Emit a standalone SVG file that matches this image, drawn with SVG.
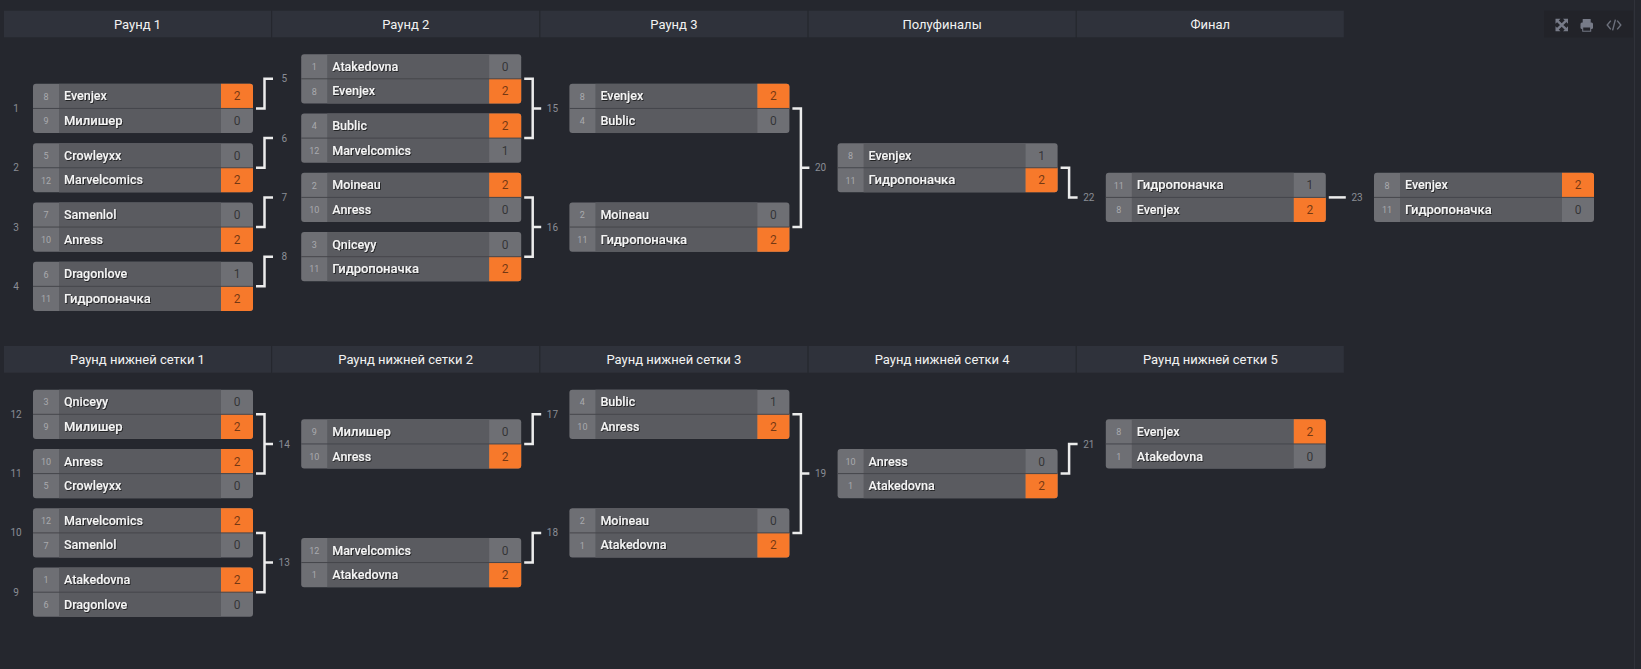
<svg xmlns="http://www.w3.org/2000/svg" xmlns:xlink="http://www.w3.org/1999/xlink" width="1641" height="669" viewBox="0 0 1641 669">
<style>
.bg{fill:#25272e}
.hd{fill:#2f323b}
.ht{font-family:Roboto,"Liberation Sans",sans-serif;font-size:13px;fill:#f2f2f2;text-anchor:middle}
.b{fill:#6e6f74}
.n{fill:#5a5b60}
.w{fill:#f7792b}
.d{stroke:#45464b;stroke-width:1}
.sd{font-family:Roboto,"Liberation Sans",sans-serif;font-size:9px;fill:#a9aaae;text-anchor:middle}
.nm{font-family:Roboto,"Liberation Sans",sans-serif;font-size:12.5px;font-weight:500;fill:#f4f4f4;filter:url(#sh)}
.cy{font-size:13px}
.sc{font-family:Roboto,"Liberation Sans",sans-serif;font-size:12px;fill:#000;fill-opacity:.55;text-anchor:middle}
.ml{font-family:Roboto,"Liberation Sans",sans-serif;font-size:10px;fill:#8a8d95;text-anchor:middle}
.cn{fill:none;stroke:#ececec;stroke-width:2.5}
.ic{fill:#777b88}
.ics{fill:none;stroke:#6d717d;stroke-width:1.4}
</style>
<defs>
<filter id="sh" x="-10%" y="-30%" width="130%" height="170%"><feDropShadow dx="0.8" dy="0.9" stdDeviation="0.4" flood-color="#000" flood-opacity="0.7"/></filter>
<g id="box"><rect class="b" width="220" height="49.2" rx="3"/><rect class="n" x="26" width="162" height="49.2"/></g>
<path id="wt" class="w" d="M188 0H217A3 3 0 0 1 220 3V24.6H188Z"/>
<path id="wb" class="w" d="M188 24.6H220V46.2A3 3 0 0 1 217 49.2H188Z"/>
</defs>
<rect class="bg" width="1641" height="669"/>
<line x1="1634.5" y1="0" x2="1634.5" y2="669" stroke="#30323a" stroke-width="1"/>

<g id="headers">
<rect class="hd" x="4" y="10.7" width="267" height="26.6"/><text class="ht" x="137.5" y="28.5">Раунд 1</text>
<rect class="hd" x="272.2" y="10.7" width="267" height="26.6"/><text class="ht" x="405.7" y="28.5">Раунд 2</text>
<rect class="hd" x="540.4" y="10.7" width="267" height="26.6"/><text class="ht" x="673.9" y="28.5">Раунд 3</text>
<rect class="hd" x="808.6" y="10.7" width="267" height="26.6"/><text class="ht" x="942.1" y="28.5">Полуфиналы</text>
<rect class="hd" x="1076.8" y="10.7" width="267" height="26.6"/><text class="ht" x="1210.3" y="28.5">Финал</text>
<rect class="hd" x="4" y="346" width="267" height="26.7"/><text class="ht" x="137.5" y="363.8">Раунд нижней сетки 1</text>
<rect class="hd" x="272.2" y="346" width="267" height="26.7"/><text class="ht" x="405.7" y="363.8">Раунд нижней сетки 2</text>
<rect class="hd" x="540.4" y="346" width="267" height="26.7"/><text class="ht" x="673.9" y="363.8">Раунд нижней сетки 3</text>
<rect class="hd" x="808.6" y="346" width="267" height="26.7"/><text class="ht" x="942.1" y="363.8">Раунд нижней сетки 4</text>
<rect class="hd" x="1076.8" y="346" width="267" height="26.7"/><text class="ht" x="1210.3" y="363.8">Раунд нижней сетки 5</text>
</g>

<g id="toolbar">
<rect x="1544" y="10.7" width="89" height="26.7" fill="#222329"/>
<g class="ic">
<path d="M1555.5 18.8h5l-5 5z M1568 18.8h-5l5 5z M1555.5 31.2h5l-5-5z M1568 31.2h-5l5-5z"/>
<path d="M1557 20.3L1566.4 29.7 M1566.4 20.3L1557 29.7" stroke="#777b88" stroke-width="2.4"/>
<rect x="1582.7" y="19" width="8" height="4" rx="0.5"/>
<rect x="1580.5" y="22.5" width="12.5" height="6.5" rx="1.5"/>
<rect x="1582.7" y="27" width="8" height="4.2" fill="#222329" stroke="#777b88" stroke-width="1"/>
</g>
<path class="ics" d="M1610.8 20.6L1607.2 25L1610.8 29.4 M1617.2 20.6L1620.8 25L1617.2 29.4 M1615.4 19.6L1612.6 30.4"/>
</g>

<g id="connectors">
<path class="cn" d="M256 108.45H264.5V78.8H273"/>
<path class="cn" d="M256 167.75H264.5V138.1H273"/>
<path class="cn" d="M256 227.05H264.5V197.4H273"/>
<path class="cn" d="M256 286.35H264.5V256.7H273"/>
<path class="cn" d="M524.2 78.8H532.7V138.1H524.2M532.7 108.45H541.2"/>
<path class="cn" d="M524.2 197.4H532.7V256.7H524.2M532.7 227.05H541.2"/>
<path class="cn" d="M792.4 108.45H800.9V227.05H792.4M800.9 167.75H809.4"/>
<path class="cn" d="M1060.6 167.75H1069.1V197.4H1077.6"/>
<path class="cn" d="M1328.8 197.4H1345.8"/>
<path class="cn" d="M256 414.3H264.5V473.6H256M264.5 443.95H273"/>
<path class="cn" d="M256 532.9H264.5V592.2H256M264.5 562.55H273"/>
<path class="cn" d="M524.2 443.95H532.7V414.3H541.2"/>
<path class="cn" d="M524.2 562.55H532.7V532.9H541.2"/>
<path class="cn" d="M792.4 414.3H800.9V532.9H792.4M800.9 473.6H809.4"/>
<path class="cn" d="M1060.6 473.6H1069.1V443.95H1077.6"/>
</g>

<g id="match-labels">
<text class="ml" x="16" y="112">1</text>
<text class="ml" x="16" y="171.3">2</text>
<text class="ml" x="16" y="230.6">3</text>
<text class="ml" x="16" y="289.9">4</text>
<text class="ml" x="284.2" y="82.3">5</text>
<text class="ml" x="284.2" y="141.6">6</text>
<text class="ml" x="284.2" y="200.9">7</text>
<text class="ml" x="284.2" y="260.2">8</text>
<text class="ml" x="552.4" y="112">15</text>
<text class="ml" x="552.4" y="230.6">16</text>
<text class="ml" x="820.6" y="171.3">20</text>
<text class="ml" x="1088.8" y="200.9">22</text>
<text class="ml" x="1357" y="200.9">23</text>
<text class="ml" x="16" y="417.8">12</text>
<text class="ml" x="16" y="477.1">11</text>
<text class="ml" x="16" y="536.4">10</text>
<text class="ml" x="16" y="595.7">9</text>
<text class="ml" x="284.2" y="447.5">14</text>
<text class="ml" x="284.2" y="566">13</text>
<text class="ml" x="552.4" y="417.8">17</text>
<text class="ml" x="552.4" y="536.4">18</text>
<text class="ml" x="820.6" y="477.1">19</text>
<text class="ml" x="1088.8" y="447.5">21</text>
</g>

<g id="m1" transform="translate(33,83.85)"><use href="#box"/><use href="#wt"/><line class="d" x2="220" y1="24.6" y2="24.6"/>
<text class="sd" x="13" y="15.8">8</text><text class="nm" x="31" y="16.6">Evenjex</text><text class="sc" x="204" y="16.6">2</text>
<text class="sd" x="13" y="40.4">9</text><text class="nm cy" x="31" y="41.3">Милишер</text><text class="sc" x="204" y="41.2">0</text></g>

<g id="m2" transform="translate(33,143.15)"><use href="#box"/><use href="#wb"/><line class="d" x2="220" y1="24.6" y2="24.6"/>
<text class="sd" x="13" y="15.8">5</text><text class="nm" x="31" y="16.6">Crowleyxx</text><text class="sc" x="204" y="16.6">0</text>
<text class="sd" x="13" y="40.4">12</text><text class="nm" x="31" y="41.2">Marvelcomics</text><text class="sc" x="204" y="41.2">2</text></g>

<g id="m3" transform="translate(33,202.45)"><use href="#box"/><use href="#wb"/><line class="d" x2="220" y1="24.6" y2="24.6"/>
<text class="sd" x="13" y="15.8">7</text><text class="nm" x="31" y="16.6">Samenlol</text><text class="sc" x="204" y="16.6">0</text>
<text class="sd" x="13" y="40.4">10</text><text class="nm" x="31" y="41.2">Anress</text><text class="sc" x="204" y="41.2">2</text></g>

<g id="m4" transform="translate(33,261.75)"><use href="#box"/><use href="#wb"/><line class="d" x2="220" y1="24.6" y2="24.6"/>
<text class="sd" x="13" y="15.8">6</text><text class="nm" x="31" y="16.6">Dragonlove</text><text class="sc" x="204" y="16.6">1</text>
<text class="sd" x="13" y="40.4">11</text><text class="nm cy" x="31" y="41.3">Гидропоначка</text><text class="sc" x="204" y="41.2">2</text></g>

<g id="m5" transform="translate(301.2,54.2)"><use href="#box"/><use href="#wb"/><line class="d" x2="220" y1="24.6" y2="24.6"/>
<text class="sd" x="13" y="15.8">1</text><text class="nm" x="31" y="16.6">Atakedovna</text><text class="sc" x="204" y="16.6">0</text>
<text class="sd" x="13" y="40.4">8</text><text class="nm" x="31" y="41.2">Evenjex</text><text class="sc" x="204" y="41.2">2</text></g>

<g id="m6" transform="translate(301.2,113.5)"><use href="#box"/><use href="#wt"/><line class="d" x2="220" y1="24.6" y2="24.6"/>
<text class="sd" x="13" y="15.8">4</text><text class="nm" x="31" y="16.6">Bublic</text><text class="sc" x="204" y="16.6">2</text>
<text class="sd" x="13" y="40.4">12</text><text class="nm" x="31" y="41.2">Marvelcomics</text><text class="sc" x="204" y="41.2">1</text></g>

<g id="m7" transform="translate(301.2,172.8)"><use href="#box"/><use href="#wt"/><line class="d" x2="220" y1="24.6" y2="24.6"/>
<text class="sd" x="13" y="15.8">2</text><text class="nm" x="31" y="16.6">Moineau</text><text class="sc" x="204" y="16.6">2</text>
<text class="sd" x="13" y="40.4">10</text><text class="nm" x="31" y="41.2">Anress</text><text class="sc" x="204" y="41.2">0</text></g>

<g id="m8" transform="translate(301.2,232.1)"><use href="#box"/><use href="#wb"/><line class="d" x2="220" y1="24.6" y2="24.6"/>
<text class="sd" x="13" y="15.8">3</text><text class="nm" x="31" y="16.6">Qniceyy</text><text class="sc" x="204" y="16.6">0</text>
<text class="sd" x="13" y="40.4">11</text><text class="nm cy" x="31" y="41.3">Гидропоначка</text><text class="sc" x="204" y="41.2">2</text></g>

<g id="m15" transform="translate(569.4,83.85)"><use href="#box"/><use href="#wt"/><line class="d" x2="220" y1="24.6" y2="24.6"/>
<text class="sd" x="13" y="15.8">8</text><text class="nm" x="31" y="16.6">Evenjex</text><text class="sc" x="204" y="16.6">2</text>
<text class="sd" x="13" y="40.4">4</text><text class="nm" x="31" y="41.2">Bublic</text><text class="sc" x="204" y="41.2">0</text></g>

<g id="m16" transform="translate(569.4,202.45)"><use href="#box"/><use href="#wb"/><line class="d" x2="220" y1="24.6" y2="24.6"/>
<text class="sd" x="13" y="15.8">2</text><text class="nm" x="31" y="16.6">Moineau</text><text class="sc" x="204" y="16.6">0</text>
<text class="sd" x="13" y="40.4">11</text><text class="nm cy" x="31" y="41.3">Гидропоначка</text><text class="sc" x="204" y="41.2">2</text></g>

<g id="m20" transform="translate(837.6,143.15)"><use href="#box"/><use href="#wb"/><line class="d" x2="220" y1="24.6" y2="24.6"/>
<text class="sd" x="13" y="15.8">8</text><text class="nm" x="31" y="16.6">Evenjex</text><text class="sc" x="204" y="16.6">1</text>
<text class="sd" x="13" y="40.4">11</text><text class="nm cy" x="31" y="41.3">Гидропоначка</text><text class="sc" x="204" y="41.2">2</text></g>

<g id="m22" transform="translate(1105.8,172.8)"><use href="#box"/><use href="#wb"/><line class="d" x2="220" y1="24.6" y2="24.6"/>
<text class="sd" x="13" y="15.8">11</text><text class="nm cy" x="31" y="16.7">Гидропоначка</text><text class="sc" x="204" y="16.6">1</text>
<text class="sd" x="13" y="40.4">8</text><text class="nm" x="31" y="41.2">Evenjex</text><text class="sc" x="204" y="41.2">2</text></g>

<g id="m23" transform="translate(1374,172.8)"><use href="#box"/><use href="#wt"/><line class="d" x2="220" y1="24.6" y2="24.6"/>
<text class="sd" x="13" y="15.8">8</text><text class="nm" x="31" y="16.6">Evenjex</text><text class="sc" x="204" y="16.6">2</text>
<text class="sd" x="13" y="40.4">11</text><text class="nm cy" x="31" y="41.3">Гидропоначка</text><text class="sc" x="204" y="41.2">0</text></g>

<g id="m12" transform="translate(33,389.7)"><use href="#box"/><use href="#wb"/><line class="d" x2="220" y1="24.6" y2="24.6"/>
<text class="sd" x="13" y="15.8">3</text><text class="nm" x="31" y="16.6">Qniceyy</text><text class="sc" x="204" y="16.6">0</text>
<text class="sd" x="13" y="40.4">9</text><text class="nm cy" x="31" y="41.3">Милишер</text><text class="sc" x="204" y="41.2">2</text></g>

<g id="m11" transform="translate(33,449)"><use href="#box"/><use href="#wt"/><line class="d" x2="220" y1="24.6" y2="24.6"/>
<text class="sd" x="13" y="15.8">10</text><text class="nm" x="31" y="16.6">Anress</text><text class="sc" x="204" y="16.6">2</text>
<text class="sd" x="13" y="40.4">5</text><text class="nm" x="31" y="41.2">Crowleyxx</text><text class="sc" x="204" y="41.2">0</text></g>

<g id="m10" transform="translate(33,508.3)"><use href="#box"/><use href="#wt"/><line class="d" x2="220" y1="24.6" y2="24.6"/>
<text class="sd" x="13" y="15.8">12</text><text class="nm" x="31" y="16.6">Marvelcomics</text><text class="sc" x="204" y="16.6">2</text>
<text class="sd" x="13" y="40.4">7</text><text class="nm" x="31" y="41.2">Samenlol</text><text class="sc" x="204" y="41.2">0</text></g>

<g id="m9" transform="translate(33,567.6)"><use href="#box"/><use href="#wt"/><line class="d" x2="220" y1="24.6" y2="24.6"/>
<text class="sd" x="13" y="15.8">1</text><text class="nm" x="31" y="16.6">Atakedovna</text><text class="sc" x="204" y="16.6">2</text>
<text class="sd" x="13" y="40.4">6</text><text class="nm" x="31" y="41.2">Dragonlove</text><text class="sc" x="204" y="41.2">0</text></g>

<g id="m14" transform="translate(301.2,419.35)"><use href="#box"/><use href="#wb"/><line class="d" x2="220" y1="24.6" y2="24.6"/>
<text class="sd" x="13" y="15.8">9</text><text class="nm cy" x="31" y="16.7">Милишер</text><text class="sc" x="204" y="16.6">0</text>
<text class="sd" x="13" y="40.4">10</text><text class="nm" x="31" y="41.2">Anress</text><text class="sc" x="204" y="41.2">2</text></g>

<g id="m13" transform="translate(301.2,537.95)"><use href="#box"/><use href="#wb"/><line class="d" x2="220" y1="24.6" y2="24.6"/>
<text class="sd" x="13" y="15.8">12</text><text class="nm" x="31" y="16.6">Marvelcomics</text><text class="sc" x="204" y="16.6">0</text>
<text class="sd" x="13" y="40.4">1</text><text class="nm" x="31" y="41.2">Atakedovna</text><text class="sc" x="204" y="41.2">2</text></g>

<g id="m17" transform="translate(569.4,389.7)"><use href="#box"/><use href="#wb"/><line class="d" x2="220" y1="24.6" y2="24.6"/>
<text class="sd" x="13" y="15.8">4</text><text class="nm" x="31" y="16.6">Bublic</text><text class="sc" x="204" y="16.6">1</text>
<text class="sd" x="13" y="40.4">10</text><text class="nm" x="31" y="41.2">Anress</text><text class="sc" x="204" y="41.2">2</text></g>

<g id="m18" transform="translate(569.4,508.3)"><use href="#box"/><use href="#wb"/><line class="d" x2="220" y1="24.6" y2="24.6"/>
<text class="sd" x="13" y="15.8">2</text><text class="nm" x="31" y="16.6">Moineau</text><text class="sc" x="204" y="16.6">0</text>
<text class="sd" x="13" y="40.4">1</text><text class="nm" x="31" y="41.2">Atakedovna</text><text class="sc" x="204" y="41.2">2</text></g>

<g id="m19" transform="translate(837.6,449)"><use href="#box"/><use href="#wb"/><line class="d" x2="220" y1="24.6" y2="24.6"/>
<text class="sd" x="13" y="15.8">10</text><text class="nm" x="31" y="16.6">Anress</text><text class="sc" x="204" y="16.6">0</text>
<text class="sd" x="13" y="40.4">1</text><text class="nm" x="31" y="41.2">Atakedovna</text><text class="sc" x="204" y="41.2">2</text></g>

<g id="m21" transform="translate(1105.8,419.35)"><use href="#box"/><use href="#wt"/><line class="d" x2="220" y1="24.6" y2="24.6"/>
<text class="sd" x="13" y="15.8">8</text><text class="nm" x="31" y="16.6">Evenjex</text><text class="sc" x="204" y="16.6">2</text>
<text class="sd" x="13" y="40.4">1</text><text class="nm" x="31" y="41.2">Atakedovna</text><text class="sc" x="204" y="41.2">0</text></g>
</svg>
